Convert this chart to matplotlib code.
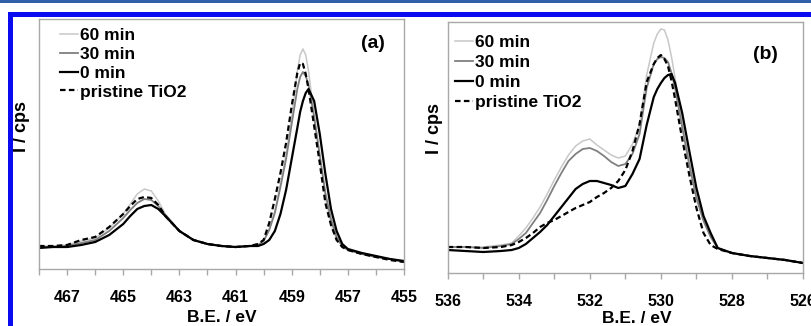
import matplotlib
matplotlib.use("Agg")
import matplotlib.pyplot as plt
from matplotlib.patches import Rectangle
from matplotlib.ticker import MultipleLocator

plt.rcParams['font.family'] = ['Liberation Sans', 'DejaVu Sans']
plt.rcParams['font.weight'] = 'bold'

# data (intensity in arbitrary units)
labels = ['60 min', '30 min', '0 min', 'pristine TiO2']

# (a) Ti 2p
ea = [468.0, 467.5, 467.0, 466.5, 466.0, 465.5, 465.0, 464.75, 464.5, 464.25,
      464.0, 463.75, 463.5, 463.0, 462.5, 462.0, 461.5, 461.0, 460.5, 460.2,
      460.0, 459.8, 459.6, 459.4, 459.2, 459.0, 458.8, 458.7, 458.6, 458.5,
      458.4, 458.2, 458.0, 457.8, 457.6, 457.4, 457.2, 457.0, 456.5, 456.0,
      455.5, 455.0]
a_60 = [23, 23, 24, 28, 31, 41, 55, 65, 75, 80,
        78, 68, 55, 38, 29, 25, 23, 22, 23, 24,
        28, 40, 58, 85, 114, 152, 198, 214, 220, 214,
        198, 153, 112, 72, 45, 30, 23, 19, 15, 12,
        10, 7]
a_30 = [22, 22, 23, 26, 29, 38, 51, 59, 66, 70,
        69, 63, 54, 38, 29, 25, 23, 22, 23, 24,
        28, 39, 56, 82, 110, 145, 180, 192, 197, 193,
        184, 152, 114, 76, 50, 32, 23, 19, 15, 12,
        10, 7]
a_0 = [21, 22, 22, 24, 27, 34, 45, 53, 60, 63,
       64, 60, 53, 38, 29, 25, 23, 22, 23, 23,
       25, 29, 38, 55, 79, 110, 141, 157, 168, 176,
       180, 168, 135, 95, 60, 38, 25, 20, 16, 13,
       10, 8]
a_pr = [23, 23, 24, 29, 32, 42, 55, 63, 70, 72,
        71, 64, 53, 38, 29, 25, 23, 22, 23, 25,
        29, 46, 70, 96, 126, 163, 196, 206, 205, 195,
        180, 143, 106, 66, 44, 29, 22, 19, 15, 12,
        9, 7]

# (b) O 1s
eb = [536.0, 535.5, 535.0, 534.5, 534.2, 534.0, 533.8, 533.6, 533.4, 533.2,
      533.0, 532.8, 532.6, 532.4, 532.2, 532.0, 531.8, 531.6, 531.4, 531.2,
      531.0, 530.8, 530.6, 530.4, 530.2, 530.1, 530.0, 529.9, 529.8, 529.7,
      529.6, 529.4, 529.2, 529.0, 528.8, 528.6, 528.4, 528.0, 527.5, 527.0,
      526.5, 526.0]
b_60 = [26, 26, 26, 28, 30, 37, 45, 55, 66, 79,
        93, 106, 118, 127, 132, 134, 128, 123, 118, 115,
        117, 129, 148, 198, 230, 239, 244, 243, 233, 216,
        195, 151, 111, 78, 54, 37, 25, 20, 17, 15,
        13, 10]
b_30 = [26, 26, 25, 27, 29, 34, 40, 50, 60, 73,
        87, 100, 112, 119, 124, 125, 122, 117, 111, 107,
        109, 119, 139, 185, 209, 214, 216, 215, 211, 200,
        185, 146, 108, 75, 52, 36, 25, 20, 17, 15,
        13, 10]
b_0 = [23, 22, 21, 22, 23, 25, 29, 35, 41, 48,
       57, 66, 75, 84, 89, 92, 92, 90, 88, 85,
       87, 99, 114, 148, 176, 184, 190, 195, 198, 199,
       190, 160, 122, 85, 57, 40, 25, 20, 17, 15,
       13, 10]
b_pr = [26, 26, 25, 26, 28, 31, 35, 40, 46, 50,
        53, 57, 61, 65, 68, 71, 76, 80, 85, 92,
        103, 122, 149, 191, 209, 215, 218, 214, 207, 192,
        174, 134, 98, 65, 40, 28, 24, 20, 17, 15,
        13, 10]

colors = ['#c8c8c8', '#808080', 'black', 'black']
widths = [1.1, 1.3, 1.6, 1.6]
styles = ['-', '-', '-', (0, (2.5, 1.5))]

fig = plt.figure(figsize=(8.11, 3.26), dpi=100)

# blue frame around the figure
fig.add_artist(Rectangle((0, 1 - 2.5 / 326), 1, 2.5 / 326, transform=fig.transFigure,
                         color='#2f5fa8', lw=0))
fig.add_artist(Rectangle((8 / 811, 1 - 17 / 326), 1, 5 / 326, transform=fig.transFigure,
                         color='#0a0af0', lw=0))
fig.add_artist(Rectangle((8 / 811, 0), 5 / 811, 1 - 12 / 326, transform=fig.transFigure,
                         color='#0a0af0', lw=0))

ax1 = fig.add_axes([39 / 811, 57 / 326, 365 / 811, 250 / 326])
ax2 = fig.add_axes([447.7 / 811, 53 / 326, 355.3 / 811, 251 / 326])

panels = [
    (ax1, ea, [a_60, a_30, a_0, a_pr], (468, 455), 250, '(a)', (0.915, 0.90)),
    (ax2, eb, [b_60, b_30, b_0, b_pr], (536, 526), 251, '(b)', (0.893, 0.872)),
]

for ax, e, series, xl, ytop, tag, tagpos in panels:
    for y, c, w, s, lab in zip(series, colors, widths, styles, labels):
        ax.plot(e, y, color=c, lw=w, ls=s, label=lab)
    ax.set_xlim(*xl)
    ax.set_ylim(0, ytop)
    ax.xaxis.set_major_locator(MultipleLocator(2))
    ax.xaxis.set_minor_locator(MultipleLocator(1))
    ax.set_yticks([])
    for sp in ax.spines.values():
        sp.set_color('#a8a8a8')
        sp.set_linewidth(1.0)
    ax.tick_params(axis='x', which='both', direction='out', length=4,
                   color='#a8a8a8', width=1.0, pad=11, labelsize=11.5)
    ax.set_xlabel('B.E. / eV', fontsize=12.5, fontweight='bold')
    ax.set_ylabel('I / cps', fontsize=13, fontweight='bold')
    ax.text(tagpos[0], tagpos[1], tag, transform=ax.transAxes, ha='center',
            va='center', fontsize=14, fontweight='bold')

ax1.set_xticks([467, 465, 463, 461, 459, 457, 455])
ax2.set_xticks([536, 534, 532, 530, 528, 526])

ax1.xaxis.set_label_coords(0.5, -0.165)
ax2.xaxis.set_label_coords(0.533, -0.152)
ax1.yaxis.set_label_coords(-0.025, 0.568)
ax2.yaxis.set_label_coords(-0.013, 0.574)

leg_kw = dict(loc='upper left', frameon=False, handlelength=1.05,
              handletextpad=0.1, borderpad=0, borderaxespad=0,
              prop={'size': 12.5, 'weight': 'bold'})
ax1.legend(bbox_to_anchor=(0.0575, 0.966), labelspacing=0.22, **leg_kw)
ax2.legend(bbox_to_anchor=(0.0205, 0.950), labelspacing=0.29, **leg_kw)

fig.savefig('out.png', dpi=100)
